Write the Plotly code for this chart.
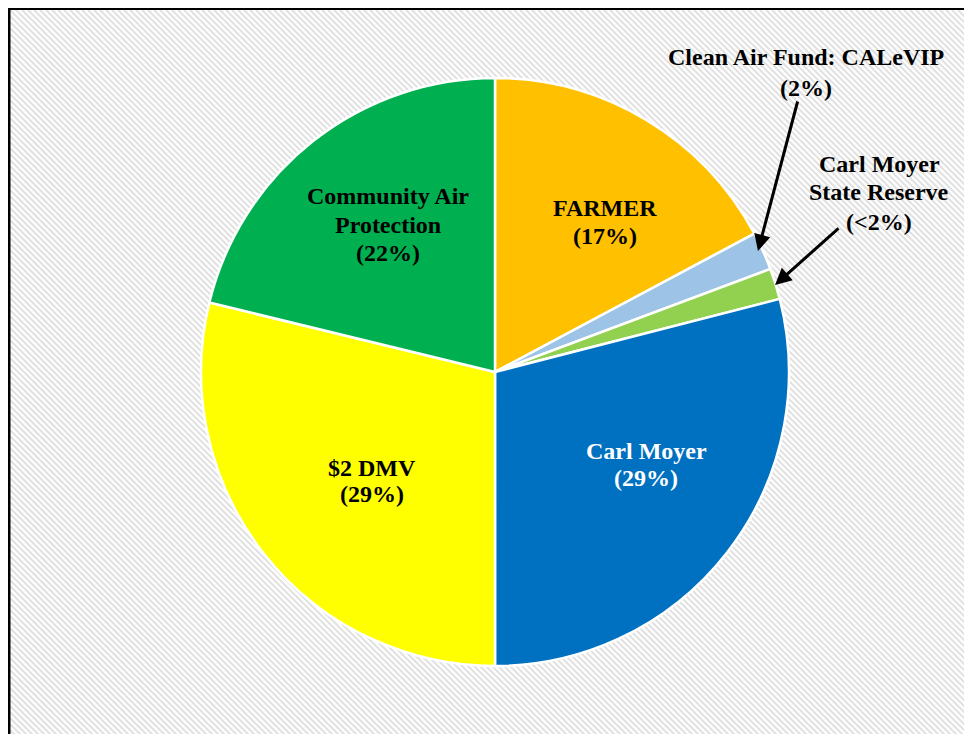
import plotly.graph_objects as go

# ---- data ----
categories = ["FARMER", "Clean Air Fund: CALeVIP", "Carl Moyer State Reserve",
              "Carl Moyer", "$2 DMV", "Community Air Protection"]
values = [17.2, 2.1, 1.7, 29.0, 28.8, 21.2]
label_lines = [["FARMER"], ["Clean Air Fund: CALeVIP"], ["Carl Moyer", "State Reserve"],
               ["Carl Moyer"], ["$2 DMV"], ["Community Air", "Protection"]]
pct_labels = ["(17%)", "(2%)", "(<2%)", "(29%)", "(29%)", "(22%)"]
colors = ["#FFC000", "#9DC3E6", "#92D050", "#0070C0", "#FFFF00", "#00B050"]
text_colors = ["black", "black", "black", "white", "black", "black"]

W, H = 972, 734
OFF = 8  # page body margin


def px(x):
    return (x - OFF) / W


def py(y):
    return 1 - (y - OFF) / H


fig = go.Figure(go.Pie(
    labels=categories, values=values, sort=False, direction="clockwise",
    rotation=0, textinfo="none", hoverinfo="label+percent",
    marker=dict(colors=colors, line=dict(color="white", width=2.5)),
    domain=dict(x=[px(201), px(789)], y=[py(666), py(78)]),
    showlegend=False,
))

# ---- striped background inside the frame ----
x0, y0 = 2, 2
segs = []
step = 6
c = x0 - (H - y0)
while c < W:
    xa = max(c, x0)
    ya = y0 + (xa - c)
    xb = min(W, c + (H - y0))
    yb = y0 + (xb - c)
    if xb > xa:
        segs.append(f"M{xa / W:.5f},{1 - ya / H:.5f}L{xb / W:.5f},{1 - yb / H:.5f}")
    c += step
shapes = [
    dict(type="path", xref="paper", yref="paper", path="".join(segs),
         line=dict(color="#E2E2E2", width=2.2), layer="below"),
    dict(type="line", xref="paper", yref="paper", x0=1 / W, x1=1 / W,
         y0=0, y1=1, line=dict(color="black", width=3), layer="above"),
    dict(type="line", xref="paper", yref="paper", x0=0, x1=1,
         y0=1 - 0.5 / H, y1=1 - 0.5 / H, line=dict(color="black", width=3), layer="above"),
]

font = dict(family="Liberation Serif, Times New Roman, serif", size=24)

# centre x of each label block and y of its lines (page pixels)
label_pos = [
    (605, [207, 235]),
    (806, [56, 87]),
    (879, [163, 191, 221]),
    (646, [450, 477]),
    (372, [467, 493]),
    (388, [195, 224, 252]),
]

annotations = []
for lines, pct, (cx, ys), col in zip(label_lines, pct_labels, label_pos, text_colors):
    for txt, yy in zip(lines + [pct], ys):
        annotations.append(dict(
            text=f"<b>{txt}</b>", x=px(cx), y=py(yy + 1), xref="paper", yref="paper",
            showarrow=False, font=dict(font, color=col),
            xanchor="center", yanchor="middle"))


def arrow(tx, ty, hx, hy):
    return dict(text="", x=px(hx), y=py(hy), xref="paper", yref="paper",
                ax=tx - hx, ay=ty - hy, axref="pixel", ayref="pixel",
                showarrow=True, arrowhead=2, arrowsize=1.1, arrowwidth=3,
                arrowcolor="black", standoff=0, startstandoff=0)


annotations += [arrow(798, 100, 758, 251), arrow(840, 227, 775, 285)]

fig.update_layout(
    width=W, height=H, margin=dict(l=0, r=0, t=0, b=0),
    paper_bgcolor="white", plot_bgcolor="white",
    shapes=shapes, annotations=annotations,
)

fig.write_html("out.html")
